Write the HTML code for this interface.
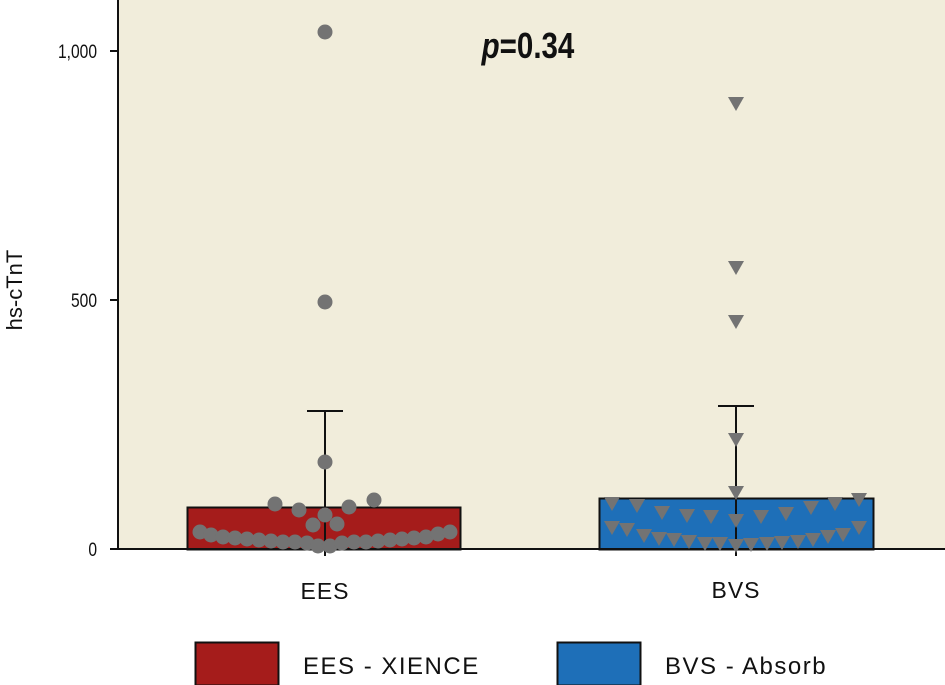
<!DOCTYPE html>
<html><head><meta charset="utf-8"><style>
body{margin:0;background:#fff;}
svg{display:block;font-family:"Liberation Sans",sans-serif;}
</style></head><body>
<svg width="945" height="685" viewBox="0 0 945 685">
<rect x="118" y="0" width="827" height="549" fill="#f1eddb"/>
<rect x="187.5" y="507.5" width="273" height="42" fill="#a51c1b" stroke="#111" stroke-width="2"/>
<rect x="599.5" y="498.5" width="274" height="51" fill="#1e6fb8" stroke="#111" stroke-width="2"/>
<g stroke="#111" stroke-width="2">
<line x1="325" y1="411" x2="325" y2="556"/><line x1="307" y1="411" x2="343" y2="411"/>
<line x1="736" y1="406" x2="736" y2="556"/><line x1="718" y1="406" x2="754" y2="406"/>
<line x1="118" y1="0" x2="118" y2="550"/><line x1="117" y1="549" x2="945" y2="549"/>
<line x1="110" y1="51" x2="118" y2="51"/><line x1="110" y1="300" x2="118" y2="300"/><line x1="110" y1="549" x2="118" y2="549"/>
</g>
<g fill="#737373">
<circle cx="325" cy="32" r="7.5"/><circle cx="325" cy="302" r="7.5"/><circle cx="325" cy="462" r="7.5"/>
<circle cx="275" cy="504" r="7.5"/><circle cx="299" cy="510" r="7.5"/><circle cx="349" cy="507" r="7.5"/><circle cx="374" cy="500" r="7.5"/>
<circle cx="325" cy="515" r="7.5"/><circle cx="313" cy="525" r="7.5"/><circle cx="337" cy="524" r="7.5"/>
<circle cx="200" cy="532" r="7.5"/><circle cx="211" cy="535" r="7.5"/><circle cx="223" cy="537" r="7.5"/><circle cx="235" cy="538" r="7.5"/><circle cx="247" cy="539" r="7.5"/><circle cx="259" cy="540" r="7.5"/><circle cx="271" cy="541" r="7.5"/><circle cx="283" cy="542" r="7.5"/><circle cx="295" cy="542" r="7.5"/><circle cx="307" cy="543" r="7.5"/><circle cx="318" cy="546" r="7.5"/><circle cx="330" cy="546" r="7.5"/><circle cx="342" cy="543" r="7.5"/><circle cx="354" cy="542" r="7.5"/><circle cx="366" cy="542" r="7.5"/><circle cx="378" cy="541" r="7.5"/><circle cx="390" cy="540" r="7.5"/><circle cx="402" cy="539" r="7.5"/><circle cx="414" cy="538" r="7.5"/><circle cx="426" cy="537" r="7.5"/><circle cx="438" cy="534" r="7.5"/><circle cx="450" cy="532" r="7.5"/>
</g>
<g fill="#737373">
<path d="M728 97h16l-8 14z"/><path d="M728 261h16l-8 14z"/><path d="M728 315h16l-8 14z"/><path d="M728 433h16l-8 14z"/><path d="M728 486h16l-8 14z"/><path d="M728 514h16l-8 14z"/>
<path d="M604 497h16l-8 14z"/><path d="M629 499h16l-8 14z"/><path d="M654 506h16l-8 14z"/><path d="M679 509h16l-8 14z"/><path d="M703 510h16l-8 14z"/><path d="M753 510h16l-8 14z"/><path d="M778 507h16l-8 14z"/><path d="M803 501h16l-8 14z"/><path d="M827 497h16l-8 14z"/><path d="M851 493h16l-8 14z"/>
<path d="M604 521h16l-8 14z"/><path d="M619 523h16l-8 14z"/><path d="M636 529h16l-8 14z"/><path d="M651 532h16l-8 14z"/><path d="M666 533h16l-8 14z"/><path d="M681 535h16l-8 14z"/><path d="M697 537h16l-8 14z"/><path d="M712 537h16l-8 14z"/><path d="M728 539h16l-8 14z"/><path d="M743 538h16l-8 14z"/><path d="M759 537h16l-8 14z"/><path d="M774 536h16l-8 14z"/><path d="M790 535h16l-8 14z"/><path d="M805 533h16l-8 14z"/><path d="M820 530h16l-8 14z"/><path d="M835 528h16l-8 14z"/><path d="M851 521h16l-8 14z"/>
</g>
<g font-size="19" fill="#111" text-anchor="end">
<text x="97" y="58" transform="translate(97 0) scale(0.82 1) translate(-97 0)">1,000</text>
<text x="97" y="307" transform="translate(97 0) scale(0.82 1) translate(-97 0)">500</text>
<text x="97" y="556" transform="translate(97 0) scale(0.82 1) translate(-97 0)">0</text>
</g>
<text x="0" y="0" font-size="22" fill="#111" text-anchor="middle" transform="translate(22 290) rotate(-90)">hs-cTnT</text>
<text x="528" y="58" font-size="36" font-weight="bold" fill="#111" text-anchor="middle" transform="translate(528 0) scale(0.82 1) translate(-528 0)"><tspan font-style="italic">p</tspan>=0.34</text>
<g font-size="23" fill="#111" text-anchor="middle" letter-spacing="1">
<text x="325" y="599">EES</text><text x="736" y="598">BVS</text>
</g>
<rect x="195.5" y="642.5" width="83" height="43" fill="#a51c1b" stroke="#111" stroke-width="2"/>
<rect x="557.5" y="642.5" width="83" height="43" fill="#1e6fb8" stroke="#111" stroke-width="2"/>
<g font-size="24" fill="#111" letter-spacing="1.5">
<text x="303" y="674">EES - XIENCE</text><text x="665" y="674">BVS - Absorb</text>
</g>
</svg>
</body></html>
